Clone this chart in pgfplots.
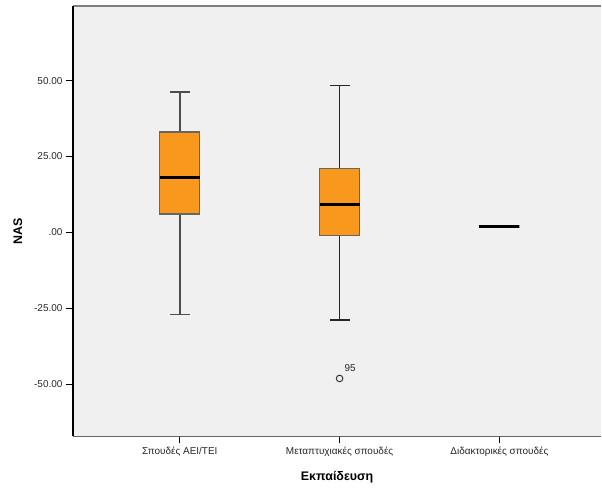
\documentclass[border=0pt]{standalone}
\usepackage{fontspec}
\setmainfont{Liberation Sans}
\usepackage{pgfplots}
\pgfplotsset{compat=1.18}
\usepgfplotslibrary{statistics}
\definecolor{boxfill}{HTML}{F8981D}
\definecolor{bg}{HTML}{F0F0F0}
\begin{document}
\begin{tikzpicture}
\begin{axis}[name=ax, scale only axis, width=529bp, height=431bp,
  xmin=0.331, xmax=3.6375, ymin=-67.2, ymax=74.6,
  axis background/.style={fill=bg},
  axis line style={draw=none},
  xtick={1,2,3},
  xticklabels={Σπουδές ΑΕΙ/ΤΕΙ, Μεταπτυχιακές σπουδές, Διδακτορικές σπουδές},
  ytick={-50,-25,0,25,50},
  yticklabels={-50.00,-25.00,.00,25.00,50.00},
  tick align=outside, xtick pos=bottom, ytick pos=left,
  major tick length=7bp,
  tick style={black, line width=1bp},
  ticklabel style={font=\fontsize{10}{12}\selectfont, text=black!85},
  xlabel={Εκπαίδευση}, ylabel={NAS},
  label style={font=\fontsize{12.5}{15}\selectfont\bfseries},
  xlabel style={at={(axis description cs:0.5,-0.094)}, anchor=center},
  ylabel style={at={(axis description cs:-0.104,0.476)}, anchor=center},
  boxplot/draw direction=y,
  boxplot/box extend=0.25,
  boxplot/whisker extend=0.125,
]
\addplot[boxplot prepared={draw position=1,
    lower whisker=-27, lower quartile=6.1, median=18.2,
    upper quartile=33.1, upper whisker=46.3,
    every box/.style={fill=boxfill, draw=black!60, line width=1.3bp},
    every median/.style={draw=black, line width=3bp},
    every whisker/.style={draw=black!70, line width=1.6bp}}]
  coordinates {};
\addplot[boxplot prepared={draw position=2,
    lower whisker=-28.8, lower quartile=-0.9, median=9.2,
    upper quartile=21.0, upper whisker=48.4,
    every box/.style={fill=boxfill, draw=black!60, line width=1.3bp},
    every median/.style={draw=black, line width=3bp},
    every whisker/.style={draw=black!85, line width=1.6bp}},
    mark=o, mark size=3.3bp, mark options={draw=black!80, line width=1bp}]
  coordinates {(0,-48.1)};
\addplot[boxplot prepared={draw position=3,
    lower whisker=2.1, lower quartile=2.1, median=2.1,
    upper quartile=2.1, upper whisker=2.1,
    every box/.style={draw=black, line width=3bp},
    every median/.style={draw=black, line width=3bp},
    every whisker/.style={draw=none}}]
  coordinates {};
\node[font=\fontsize{10}{12}\selectfont, text=black!85] at (axis cs:2.066,-44.7) {95};
\end{axis}
\draw[black!50, line width=1.5bp] (ax.north west)--(ax.north east);
\draw[black!60, line width=1.5bp] (ax.south west)--(ax.south east);
\draw[black, line width=1.5bp] (ax.south west)--(ax.north west);
\path ([xshift=-73bp,yshift=-52bp]ax.south west) rectangle ([yshift=6bp]ax.north east);
\end{tikzpicture}
\end{document}
